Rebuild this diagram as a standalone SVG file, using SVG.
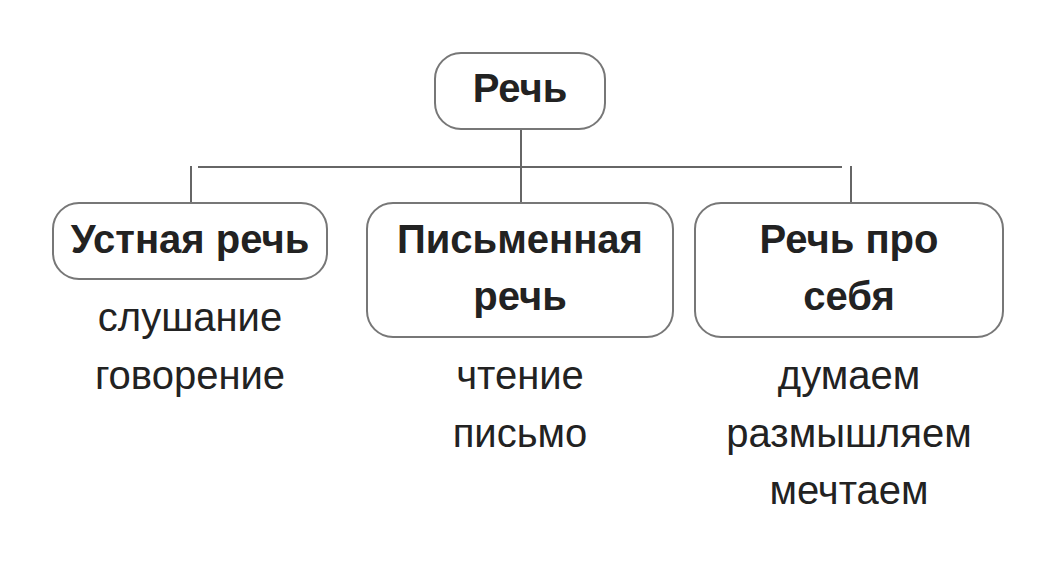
<svg xmlns="http://www.w3.org/2000/svg" width="1040" height="574" viewBox="0 0 1040 574">
<style>
.box{fill:#fff;stroke:#777;stroke-width:2}
.lbl{font-family:"Liberation Sans",Arial,sans-serif;font-weight:bold;font-size:40px;fill:#222;text-anchor:middle}
.txt{font-family:"Liberation Sans",Arial,sans-serif;font-size:40px;fill:#222;text-anchor:middle}
.con{stroke:#666;stroke-width:2;fill:none}
</style>
<rect width="1040" height="574" fill="#fff"/>
<g id="connectors">
<path class="con" d="M521 129V203M198 167H842M191 166V203M851 166V203"/>
</g>
<g id="root">
<rect class="box" x="435" y="53" width="170" height="76" rx="26"/>
<text class="lbl" x="520" y="102">Речь</text>
</g>
<g id="oral">
<rect class="box" x="53" y="203" width="274" height="76" rx="26"/>
<text class="lbl" x="190" y="253">Устная речь</text>
<text class="txt" x="190" y="331">слушание</text>
<text class="txt" x="190" y="389">говорение</text>
</g>
<g id="written">
<rect class="box" x="367" y="203" width="306" height="134" rx="26"/>
<text class="lbl" x="520" y="253">Письменная</text>
<text class="lbl" x="520" y="310">речь</text>
<text class="txt" x="520" y="389">чтение</text>
<text class="txt" x="520" y="447">письмо</text>
</g>
<g id="inner">
<rect class="box" x="695" y="203" width="308" height="134" rx="26"/>
<text class="lbl" x="849" y="253">Речь про</text>
<text class="lbl" x="849" y="310">себя</text>
<text class="txt" x="849" y="389">думаем</text>
<text class="txt" x="849" y="447">размышляем</text>
<text class="txt" x="849" y="504">мечтаем</text>
</g>
</svg>
